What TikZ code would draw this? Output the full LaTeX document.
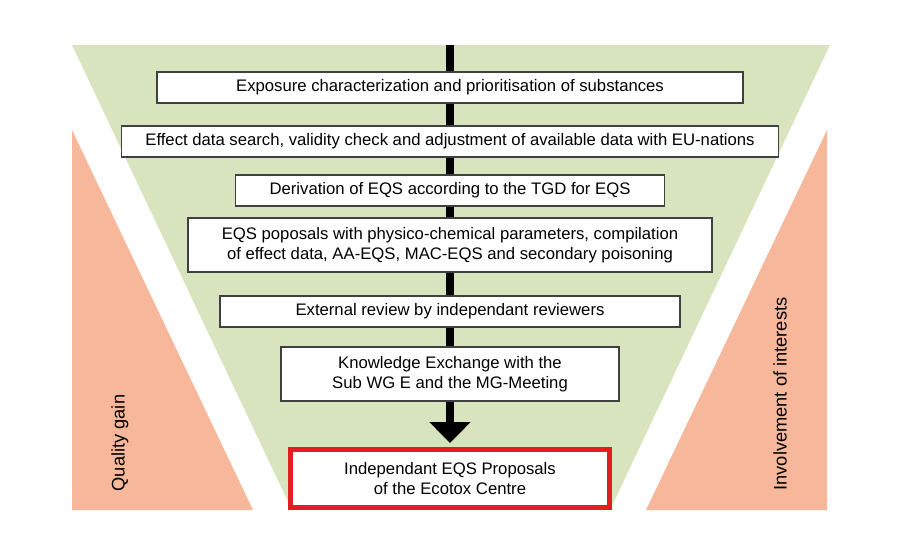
\documentclass[tikz,border=0pt]{standalone}
\usepackage{fontspec}
\setmainfont{Liberation Sans}
\usetikzlibrary{arrows.meta}
\definecolor{funnelgreen}{RGB}{216,228,189}
\definecolor{sidesalmon}{RGB}{246,183,154}
\definecolor{resultred}{RGB}{228,30,32}
\begin{document}
\begin{tikzpicture}[x=0.02cm,y=-0.02cm,
    step node/.style={draw=black!75,fill=white,line width=0.8pt,inner sep=0pt,align=center,font=\fontsize{9.5}{11.6}\selectfont},
    result node/.style={step node,draw=resultred,line width=0.1cm},
    side label/.style={rotate=90,inner sep=0pt,font=\fontsize{10.4}{12}\selectfont},
    flow/.style={line width=0.17cm}]
    \useasboundingbox (0,0) rectangle (900,549);
    \fill[funnelgreen] (72,45) -- (830,45) -- (610,510) -- (292,510) -- cycle;
    \fill[sidesalmon] (72,130) -- (72,510) -- (253,510) -- cycle;
    \fill[sidesalmon] (827,130) -- (827,510) -- (646,510) -- cycle;

    \coordinate (top) at (450,45);
    \node[step node,minimum width=11.72cm,minimum height=0.62cm] at (450,87.5) (s1) {Exposure characterization and prioritisation of substances};
    \node[step node,minimum width=13.14cm,minimum height=0.62cm] at (450,141.5) (s2) {Effect data search, validity check and adjustment of available data with EU-nations};
    \node[step node,minimum width=8.58cm,minimum height=0.62cm] at (450,190.5) (s3) {Derivation of EQS according to the TGD for EQS};
    \node[step node,minimum width=10.48cm,minimum height=1.08cm] at (450,245) (s4) {EQS poposals with physico-chemical parameters, compilation\\of effect data, AA-EQS, MAC-EQS and secondary poisoning};
    \node[step node,minimum width=9.2cm,minimum height=0.62cm] at (450,311.5) (s5) {External review by independant reviewers};
    \node[step node,minimum width=6.76cm,minimum height=1.08cm] at (450,374) (s6) {Knowledge Exchange with the\\Sub WG E and the MG-Meeting};
    \node[result node,minimum width=6.4cm,minimum height=1.16cm] at (450,478.5) (res) {Independant EQS Proposals\\of the Ecotox Centre};

    \path[flow] (top) edge (s1)
        (s1) edge (s2)
        (s2) edge (s3)
        (s3) edge (s4)
        (s4) edge (s5)
        (s5) edge (s6)
        (s6) edge[-{Triangle[width=0.8cm,length=0.42cm]}, shorten >=0.08cm] (res);

    \node[side label] at (120,443) (quality) {Quality gain};
    \node[side label] at (780,394) (involve) {Involvement of interests};
\end{tikzpicture}
\end{document}
